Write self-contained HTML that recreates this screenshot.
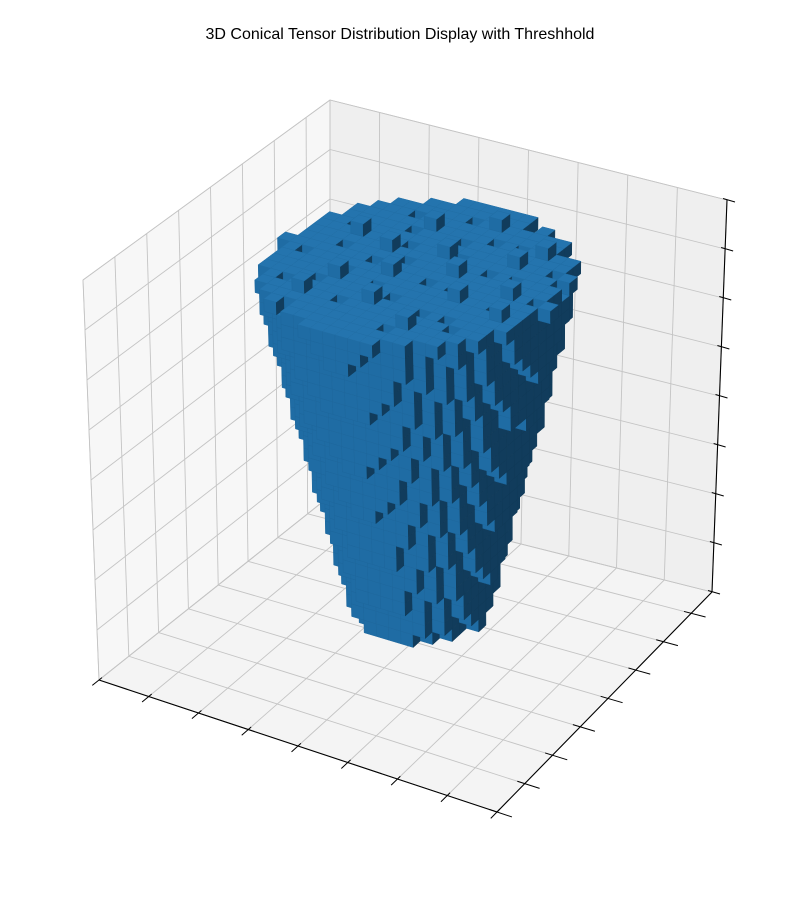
<!DOCTYPE html>
<html><head><meta charset="utf-8"><style>
body{margin:0;background:#fff;}
svg{display:block;}
</style></head><body>
<svg id="chart" width="800" height="900" viewBox="0 0 800 900">
<rect width="800" height="900" fill="#fff"/>
<text x="400" y="39" text-anchor="middle" font-family="Liberation Sans, sans-serif" font-size="16" fill="#000">3D Conical Tensor Distribution Display with Threshhold</text>
<g id="panes"></g>
<g id="grid"></g>
<g id="axes"></g>
<g id="voxels"></g>
</svg>
<script>
// ---- data ----
const xTicks = [0,4,8,12,16,20,24,28,32];
const yTicks = [0,4,8,12,16,20,24,28];
const zTicks = [0,4,8,12,16,20,24,28,32];
const baseZ = 3;
const layerRadius = [4.6,4.8,5.0,5.3,5.5,5.7,6.0,6.2,6.4,6.7,6.9,7.1,7.4,7.6,7.8,8.1,8.3,8.5,8.8,9.0,9.2,9.5,9.7,9.9,10.1,10.3,10.5];
const coneCenter = [17.0, 15.5];
const topHoles = [[9,10],[11,7],[12,13],[14,9],[15,16],[13,20],[17,11],[18,18],[19,7],[20,14],[21,21],[22,10],[23,17],[24,13],[25,19],[16,23],[10,16],[12,22],[20,24],[26,15],[18,14],[14,18],[22,6],[8,14],[24,22],[11,11],[17,20],[21,17],[15,12],[19,21],[23,9],[13,15],[26,18],[9,19],[20,10]];
const topExtras = [[12,12],[16,10],[19,16],[22,19],[14,21],[24,15],[10,18],[18,23],[20,8],[15,14],[25,12],[11,9],[21,13],[17,18],[13,17],[23,21]];
const xLim = [0,32], yLim = [0,31], zLim = [0,32];

// ---- projection (trilinear between box corners) ----
const F = {A:[99,680],B:[497,812],C:[712,592],D:[330,496]};
const T = {A:[83,280],B:[481,392],C:[727,200],D:[330,100]};
function bil(Q,u,v){
  const x=(1-u)*(1-v)*Q.A[0]+u*(1-v)*Q.B[0]+u*v*Q.C[0]+(1-u)*v*Q.D[0];
  const y=(1-u)*(1-v)*Q.A[1]+u*(1-v)*Q.B[1]+u*v*Q.C[1]+(1-u)*v*Q.D[1];
  return [x,y];
}
function P(x,y,z){
  const u=(x-xLim[0])/(xLim[1]-xLim[0]), v=(y-yLim[0])/(yLim[1]-yLim[0]), w=(z-zLim[0])/(zLim[1]-zLim[0]);
  const f=bil(F,u,v), t=bil(T,u,v);
  return [f[0]*(1-w)+t[0]*w, f[1]*(1-w)+t[1]*w];
}
const NS="http://www.w3.org/2000/svg";
function poly(g,pts,fill,stroke,sw){
  const e=document.createElementNS(NS,'polygon');
  e.setAttribute('points',pts.map(p=>p[0].toFixed(2)+','+p[1].toFixed(2)).join(' '));
  e.setAttribute('fill',fill);
  if(stroke){e.setAttribute('stroke',stroke);e.setAttribute('stroke-width',sw);e.setAttribute('stroke-linejoin','round');}
  g.appendChild(e);return e;
}
function line(g,a,b,col,w){
  const e=document.createElementNS(NS,'line');
  e.setAttribute('x1',a[0]);e.setAttribute('y1',a[1]);e.setAttribute('x2',b[0]);e.setAttribute('y2',b[1]);
  e.setAttribute('stroke',col);e.setAttribute('stroke-width',w);
  g.appendChild(e);return e;
}
const [x0,x1]=xLim,[y0,y1]=yLim,[z0,z1]=zLim;
const pg=document.getElementById('panes');
let e;
e=poly(pg,[P(x0,y0,z0),P(x0,y1,z0),P(x0,y1,z1),P(x0,y0,z1)],'#f7f7f7','#c8c8c8',0.8);


e=poly(pg,[P(x0,y1,z0),P(x1,y1,z0),P(x1,y1,z1),P(x0,y1,z1)],'#efefef','#c8c8c8',0.8);


e=poly(pg,[P(x0,y0,z0),P(x1,y0,z0),P(x1,y1,z0),P(x0,y1,z0)],'#f4f4f4','#c8c8c8',0.8);


const gg=document.getElementById('grid');
const gc='#c4c4c4';
xTicks.forEach(t=>{
  e=line(gg,P(t,y0,z0),P(t,y1,z0),gc,0.9);
  
  
  e=line(gg,P(t,y1,z0),P(t,y1,z1),gc,0.9);
  
  
});
yTicks.forEach(t=>{
  e=line(gg,P(x0,t,z0),P(x1,t,z0),gc,0.9);
  
  
  e=line(gg,P(x0,t,z0),P(x0,t,z1),gc,0.9);
  
  
});
zTicks.forEach(t=>{
  e=line(gg,P(x0,y0,t),P(x0,y1,t),gc,0.9);
  
  
  e=line(gg,P(x0,y1,t),P(x1,y1,t),gc,0.9);
  
  
});
const ag=document.getElementById('axes');
e=line(ag,P(x0,y0,z0),P(x1,y0,z0),'#000',1.1);


e=line(ag,P(x1,y0,z0),P(x1,y1,z0),'#000',1.1);


e=line(ag,P(x1,y1,z0),P(x1,y1,z1),'#000',1.1);


xTicks.forEach(t=>{
  e=line(ag,P(t,y0+0.4,z0),P(t,y0-0.9,z0),'#000',1);
  
  
});
yTicks.forEach(t=>{
  e=line(ag,P(x1-0.6,t,z0),P(x1+1.2,t,z0),'#000',1);
  
  
});
zTicks.forEach(t=>{
  const a=P(x1,y1,t);
  e=line(ag,[a[0]-4,a[1]-1.5],[a[0]+8,a[1]+2],'#000',1);
  
  
});
// voxels
const nL=layerRadius.length;
const occ=new Set();
const key=(i,j,k)=>i+','+j+','+k;
for(let l=0;l<nL;l++)
  for(let i=0;i<32;i++)
    for(let j=0;j<31;j++){
      const dx=i+0.5-coneCenter[0], dy=j+0.5-coneCenter[1];
      if(Math.sqrt(dx*dx+dy*dy)<=layerRadius[l]) occ.add(key(i,j,baseZ+l));
    }
const topK=baseZ+nL-1;
topHoles.forEach(([i,j])=>occ.delete(key(i,j,topK)));
topExtras.forEach(([i,j])=>{ if(occ.has(key(i,j,topK))) occ.add(key(i,j,topK+1)); });
const filled=(i,j,k)=>occ.has(key(i,j,k));
const cubes=[...occ].map(s=>s.split(',').map(Number));
cubes.sort((a,b)=>(a[0]-a[1]+a[2])-(b[0]-b[1]+b[2]) || (a[2]-b[2]));
const vg=document.getElementById('voxels');
const cTop='#2474ae', cFront='#1f6ca4', cSide='#113c5c';
cubes.forEach(([i,j,k])=>{
  if(!filled(i,j-1,k)){
    e=poly(vg,[P(i,j,k),P(i+1,j,k),P(i+1,j,k+1),P(i,j,k+1)],cFront,'#1d679d',0.5);
    
    
  }
  if(!filled(i+1,j,k)){
    e=poly(vg,[P(i+1,j,k),P(i+1,j+1,k),P(i+1,j+1,k+1),P(i+1,j,k+1)],cSide,'#103a58',0.5);
    
    
  }
  if(!filled(i,j,k+1)){
    e=poly(vg,[P(i,j,k+1),P(i+1,j,k+1),P(i+1,j+1,k+1),P(i,j+1,k+1)],cTop,'#206ea6',0.5);
    
    
  }
});
</script>
</body></html>
